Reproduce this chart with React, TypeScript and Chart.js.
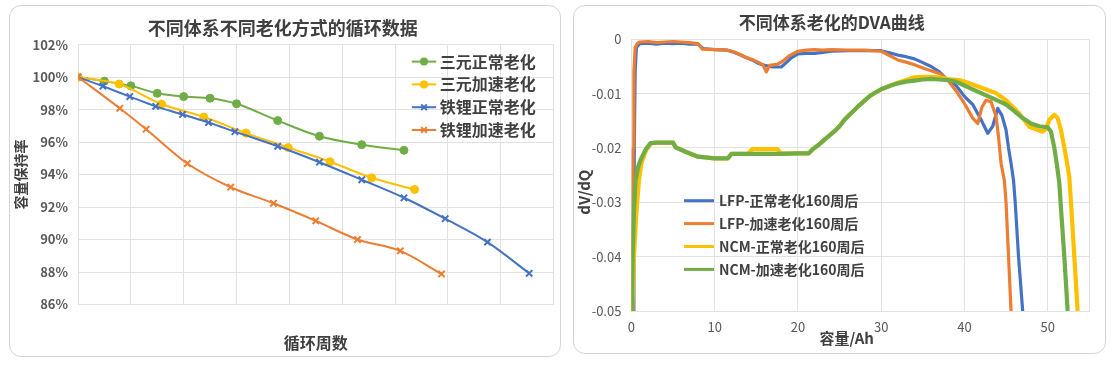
import React, { useEffect, useRef } from 'react';
import { Chart, registerables } from 'chart.js';

Chart.register(...registerables);

const FONT = '"Noto Sans CJK SC", "Noto Sans", sans-serif';

// ---------- Left chart: cycle retention ----------
const cycleSeriesNames = ['三元正常老化', '三元加速老化', '铁锂正常老化', '铁锂加速老化'];
const ncmNormalCycles = [0, 0.5, 1, 1.5, 2, 2.5, 3, 3.78, 4.57, 5.37, 6.17];
const ncmNormalRetention = [100, 99.75, 99.46, 99.0, 98.8, 98.7, 98.36, 97.32, 96.36, 95.84, 95.49];
const ncmFastCycles = [0, 0.78, 1.58, 2.38, 3.18, 3.98, 4.77, 5.56, 6.37];
const ncmFastRetention = [100, 99.57, 98.34, 97.54, 96.55, 95.66, 94.79, 93.8, 93.08];
const lfpNormalCycles = [0, 0.47, 0.98, 1.47, 1.98, 2.47, 2.97, 3.78, 4.57, 5.37, 6.17, 6.95, 7.75, 8.54];
const lfpNormalRetention = [100, 99.44, 98.8, 98.2, 97.7, 97.2, 96.64, 95.74, 94.76, 93.68, 92.57, 91.28, 89.84, 87.92];
const lfpFastCycles = [0, 0.79, 1.29, 2.07, 2.89, 3.7, 4.5, 5.29, 6.1, 6.88];
const lfpFastRetention = [100, 98.08, 96.79, 94.68, 93.22, 92.23, 91.15, 90.0, 89.3, 87.88];
const retentionTicks = [86, 88, 90, 92, 94, 96, 98, 100, 102];

// ---------- Right chart: DVA ----------
const dvaSeriesNames = ['LFP-正常老化160周后', 'LFP-加速老化160周后', 'NCM-正常老化160周后', 'NCM-加速老化160周后'];
const capLfpNormal = [0.25, 0.3, 0.35, 0.45, 0.6, 1, 2, 3, 4, 5, 6, 7, 8, 8.6, 10, 11.5, 12.3, 13, 13.7, 14.5, 15.2, 16, 17, 18, 18.6, 19.2, 20, 21, 22, 23, 24, 26, 28, 30, 31, 32, 33, 34, 35, 36, 37, 38, 39, 40, 41, 42, 42.8, 43.4, 44, 44.5, 45, 45.3, 45.6, 45.9, 46.1, 46.5, 47];
const dvdqLfpNormal = [-0.05, -0.035, -0.02, -0.006, -0.0015, -0.0008, -0.0007, -0.0009, -0.0007, -0.0008, -0.0007, -0.0009, -0.0009, -0.0017, -0.0019, -0.002, -0.0024, -0.0028, -0.0033, -0.0038, -0.0044, -0.0048, -0.0051, -0.0051, -0.0043, -0.0034, -0.0027, -0.0026, -0.0026, -0.0024, -0.0022, -0.0021, -0.0021, -0.0021, -0.0025, -0.0029, -0.0032, -0.0036, -0.0043, -0.005, -0.006, -0.0075, -0.0085, -0.0105, -0.012, -0.0148, -0.0173, -0.016, -0.0127, -0.014, -0.0167, -0.02, -0.0228, -0.026, -0.03, -0.04, -0.05];
const capLfpFast = [0.12, 0.16, 0.2, 0.3, 0.45, 0.7, 1, 2, 3, 4, 5, 6, 7, 8, 8.5, 10, 11.5, 12.3, 13, 13.7, 14.5, 15.2, 15.8, 16.2, 16.6, 17.5, 18.2, 19, 20, 21, 22, 23, 24, 26, 28, 30, 31, 32, 33, 34, 35, 36, 37, 38, 39, 40, 41, 41.6, 42.1, 42.6, 43.2, 43.8, 44.1, 44.4, 44.8, 45, 45.3, 45.6];
const dvdqLfpFast = [-0.05, -0.035, -0.02, -0.006, -0.0015, -0.0008, -0.0005, -0.0004, -0.0006, -0.0005, -0.0004, -0.0005, -0.0006, -0.0008, -0.0018, -0.0019, -0.002, -0.0023, -0.0028, -0.0033, -0.0037, -0.0042, -0.0047, -0.006, -0.0048, -0.0046, -0.004, -0.003, -0.0022, -0.002, -0.0019, -0.002, -0.0019, -0.002, -0.002, -0.0022, -0.003, -0.0038, -0.0042, -0.0047, -0.0053, -0.0058, -0.0063, -0.0075, -0.0095, -0.0118, -0.0145, -0.0155, -0.0125, -0.0112, -0.0115, -0.0142, -0.018, -0.0228, -0.026, -0.03, -0.04, -0.05];
const capNcmNormal = [0.1, 0.3, 0.6, 0.9, 1.2, 1.8, 2.4, 3, 4, 5, 5.4, 6.5, 8, 10, 11.6, 12, 14, 14.5, 16, 17.5, 18, 20, 21.3, 21.8, 22.5, 23.1, 23.8, 24.4, 25, 25.6, 26.2, 26.8, 27.4, 28, 28.6, 29.2, 30, 31, 32, 33, 34, 35, 36, 37, 38, 39.4, 40.6, 42.2, 43.8, 45, 46.2, 47, 47.8, 48.5, 49.4, 49.8, 50.2, 50.8, 51.2, 51.6, 52.2, 52.6, 52.8, 53.2, 53.6];
const dvdqNcmNormal = [-0.05, -0.04, -0.032, -0.026, -0.0228, -0.0203, -0.0191, -0.019, -0.019, -0.019, -0.0199, -0.0207, -0.0216, -0.0219, -0.0219, -0.0211, -0.0211, -0.0202, -0.0202, -0.0202, -0.021, -0.021, -0.021, -0.0202, -0.0194, -0.0186, -0.0177, -0.0169, -0.016, -0.0148, -0.0139, -0.013, -0.0121, -0.0113, -0.0105, -0.0099, -0.0092, -0.0086, -0.008, -0.0075, -0.007, -0.0069, -0.0069, -0.007, -0.0073, -0.0075, -0.0081, -0.009, -0.0099, -0.0112, -0.013, -0.0145, -0.0161, -0.0165, -0.017, -0.0165, -0.0148, -0.0139, -0.0145, -0.0167, -0.0216, -0.0253, -0.03, -0.04, -0.05];
const capNcmFast = [0.05, 0.15, 0.3, 0.5, 0.8, 1.1, 1.7, 2.3, 3, 4, 5, 5.3, 6.5, 8, 10, 11.6, 12, 14, 16, 18, 20, 21.3, 21.8, 22.5, 23.1, 23.8, 24.4, 25, 25.6, 26.2, 26.8, 27.4, 28, 28.6, 29.2, 30, 31, 32, 33, 34, 35, 36, 37, 38, 39, 40, 41, 42, 43, 44, 45, 46, 47, 48, 49, 50, 50.4, 50.8, 51.1, 51.4, 51.55, 52, 52.4];
const dvdqNcmFast = [-0.05, -0.04, -0.032, -0.026, -0.0235, -0.0222, -0.0203, -0.0191, -0.019, -0.019, -0.019, -0.0199, -0.0207, -0.0216, -0.0219, -0.0219, -0.0211, -0.0211, -0.0211, -0.0211, -0.021, -0.021, -0.0202, -0.0194, -0.0186, -0.0177, -0.0169, -0.016, -0.0148, -0.0139, -0.013, -0.0121, -0.0113, -0.0105, -0.0099, -0.0092, -0.0086, -0.0081, -0.0078, -0.0076, -0.0074, -0.0073, -0.0074, -0.0075, -0.0078, -0.0085, -0.0092, -0.0099, -0.0106, -0.0113, -0.012, -0.0132, -0.0145, -0.0155, -0.016, -0.0162, -0.017, -0.02, -0.023, -0.0265, -0.03, -0.04, -0.05];
const capacityTicks = [0, 10, 20, 30, 40, 50, 55];
const dvdqTicks = [-0.05, -0.04, -0.03, -0.02, -0.01, 0];

const GREEN = '#70AD47';
const YELLOW = '#FFC000';
const BLUE = '#4472C4';
const ORANGE = '#ED7D31';
const GRID = '#e2e2e2';
const TICK = '#595959';
const TITLE = '#404040';

const zip = (xs: number[], ys: number[]) => xs.map((x, i) => ({ x, y: ys[i] }));

function drawMarker(ctx: CanvasRenderingContext2D, style: string, x: number, y: number, r: number, color: string) {
  ctx.save();
  ctx.strokeStyle = color;
  ctx.fillStyle = color;
  if (style === 'circle') {
    ctx.beginPath();
    ctx.arc(x, y, r, 0, Math.PI * 2);
    ctx.fill();
  } else {
    const d = r * Math.SQRT1_2;
    ctx.lineWidth = 2;
    ctx.beginPath();
    ctx.moveTo(x - d, y - d);
    ctx.lineTo(x + d, y + d);
    ctx.moveTo(x - d, y + d);
    ctx.lineTo(x + d, y - d);
    ctx.stroke();
  }
  ctx.restore();
}

const cycleLegend = {
  id: 'cycleLegend',
  afterDraw(chart: any) {
    const { ctx, chartArea } = chart;
    ctx.save();
    chart.data.datasets.forEach((ds: any, i: number) => {
      const y = chartArea.top + 17 + i * 22.8;
      const x0 = chartArea.right - 141.7;
      const x1 = chartArea.right - 117.3;
      ctx.strokeStyle = ds.borderColor;
      ctx.lineWidth = 2;
      ctx.beginPath();
      ctx.moveTo(x0, y);
      ctx.lineTo(x1, y);
      ctx.stroke();
      drawMarker(ctx, ds.pointStyle, (x0 + x1) / 2, y, 4, ds.borderColor);
      ctx.fillStyle = TITLE;
      ctx.font = `bold 16px ${FONT}`;
      ctx.textAlign = 'left';
      ctx.textBaseline = 'middle';
      ctx.fillText(ds.label, chartArea.right - 113.7, y);
    });
    ctx.restore();
  },
};

const dvaLegend = {
  id: 'dvaLegend',
  afterDraw(chart: any) {
    const { ctx, chartArea } = chart;
    ctx.save();
    chart.data.datasets.forEach((ds: any, i: number) => {
      const y = chartArea.top + 161.4 + i * 22.9;
      ctx.strokeStyle = ds.borderColor;
      ctx.lineWidth = 3;
      ctx.beginPath();
      ctx.moveTo(chartArea.left + 52.6, y);
      ctx.lineTo(chartArea.left + 82.6, y);
      ctx.stroke();
      ctx.fillStyle = TITLE;
      ctx.font = `bold 14px ${FONT}`;
      ctx.textAlign = 'left';
      ctx.textBaseline = 'middle';
      ctx.fillText(ds.label, chartArea.left + 87.6, y);
    });
    ctx.restore();
  },
};

function cycleDataset(label: string, xs: number[], ys: number[], color: string, pointStyle: string, order: number) {
  return {
    label,
    data: zip(xs, ys),
    borderColor: color,
    backgroundColor: color,
    pointBackgroundColor: color,
    pointBorderColor: color,
    pointStyle,
    pointRadius: pointStyle === 'circle' ? 4 : 4.5,
    pointBorderWidth: pointStyle === 'circle' ? 1 : 2,
    borderWidth: 2,
    cubicInterpolationMode: 'monotone',
    order,
  };
}

function dvaDataset(label: string, xs: number[], ys: number[], color: string, width: number, order: number) {
  return {
    label,
    data: zip(xs, ys),
    borderColor: color,
    backgroundColor: color,
    borderWidth: width,
    pointRadius: 0,
    borderJoinStyle: 'round',
    order,
  };
}

export default function App() {
  const leftRef = useRef<HTMLCanvasElement>(null);
  const rightRef = useRef<HTMLCanvasElement>(null);

  useEffect(() => {
    const left = new Chart(leftRef.current as HTMLCanvasElement, {
      type: 'line',
      data: {
        datasets: [
          cycleDataset(cycleSeriesNames[0], ncmNormalCycles, ncmNormalRetention, GREEN, 'circle', 4),
          cycleDataset(cycleSeriesNames[1], ncmFastCycles, ncmFastRetention, YELLOW, 'circle', 3),
          cycleDataset(cycleSeriesNames[2], lfpNormalCycles, lfpNormalRetention, BLUE, 'crossRot', 2),
          cycleDataset(cycleSeriesNames[3], lfpFastCycles, lfpFastRetention, ORANGE, 'crossRot', 1),
        ] as any,
      },
      options: {
        responsive: false,
        animation: false,
        layout: { padding: { left: 0, right: 4.5, top: 0, bottom: 3.4 } },
        plugins: {
          legend: { display: false },
          tooltip: { enabled: false },
          title: {
            display: true,
            text: '不同体系不同老化方式的循环数据',
            color: TITLE,
            font: { family: FONT, size: 18, weight: 'bold' },
            padding: { top: 11.5, bottom: 5.5 },
          },
        },
        scales: {
          x: {
            type: 'linear',
            min: 0,
            max: 9,
            ticks: { display: false, stepSize: 1 },
            grid: { color: GRID, drawTicks: false },
            border: { color: GRID },
            title: {
              display: true,
              text: '循环周数',
              color: TITLE,
              font: { family: FONT, size: 16, weight: 'bold' },
              padding: 0,
            },
            afterFit: (s: any) => { s.height = 48.1; },
          },
          y: {
            type: 'linear',
            min: 86,
            max: 102,
            afterBuildTicks: (s: any) => { s.ticks = retentionTicks.map((v) => ({ value: v })); },
            ticks: {
              callback: (v: any) => `${v}%`,
              color: TICK,
              font: { family: FONT, size: 13, weight: 'bold' },
              padding: 10,
            },
            grid: { color: GRID, drawTicks: false },
            border: { color: GRID },
            title: {
              display: true,
              text: '容量保持率',
              color: TITLE,
              font: { family: FONT, size: 14, weight: 'bold' },
              padding: { top: 2.6, bottom: 0 },
            },
            afterFit: (s: any) => { s.width = 68; },
          },
        },
      } as any,
      plugins: [cycleLegend],
    });

    const right = new Chart(rightRef.current as HTMLCanvasElement, {
      type: 'line',
      data: {
        datasets: [
          dvaDataset(dvaSeriesNames[0], capLfpNormal, dvdqLfpNormal, BLUE, 3.2, 4),
          dvaDataset(dvaSeriesNames[1], capLfpFast, dvdqLfpFast, ORANGE, 3.2, 3),
          dvaDataset(dvaSeriesNames[2], capNcmNormal, dvdqNcmNormal, YELLOW, 4.2, 2),
          dvaDataset(dvaSeriesNames[3], capNcmFast, dvdqNcmFast, GREEN, 4.2, 1),
        ] as any,
      },
      options: {
        responsive: false,
        animation: false,
        layout: { padding: { left: 0, right: 15.7, top: 0, bottom: 6 } },
        plugins: {
          legend: { display: false },
          tooltip: { enabled: false },
          title: {
            display: true,
            text: '不同体系老化的DVA曲线',
            color: TITLE,
            font: { family: FONT, size: 17, weight: 'bold' },
            padding: { top: 6.8, bottom: 6.1 },
          },
        },
        scales: {
          x: {
            type: 'linear',
            min: 0,
            max: 55,
            afterBuildTicks: (s: any) => { s.ticks = capacityTicks.map((v) => ({ value: v })); },
            ticks: {
              callback: (v: any) => (v === 55 ? '' : String(v)),
              color: TICK,
              font: { family: FONT, size: 13 },
              padding: 8,
              autoSkip: false,
              maxRotation: 0,
            },
            grid: { color: GRID, drawTicks: false },
            border: { color: GRID },
            title: {
              display: true,
              text: '容量/Ah        ',
              color: TITLE,
              font: { family: FONT, size: 15, weight: 'bold' },
              padding: 0,
            },
            afterFit: (s: any) => { s.height = 36; },
          },
          y: {
            type: 'linear',
            min: -0.05,
            max: 0,
            afterBuildTicks: (s: any) => { s.ticks = dvdqTicks.map((v) => ({ value: v })); },
            ticks: {
              callback: (v: any) => (v === 0 ? '0' : Number(v).toFixed(2)),
              color: TICK,
              font: { family: FONT, size: 13 },
              padding: 10,
            },
            grid: { color: GRID, drawTicks: false },
            border: { color: GRID },
            title: {
              display: true,
              text: 'dV/dQ          ',
              color: TITLE,
              font: { family: FONT, size: 15, weight: 'bold' },
              padding: { top: 1, bottom: 0 },
            },
            afterFit: (s: any) => { s.width = 57.4; },
          },
        },
      } as any,
      plugins: [dvaLegend],
    });

    return () => {
      left.destroy();
      right.destroy();
    };
  }, []);

  const card: React.CSSProperties = {
    position: 'absolute',
    border: '1px solid #d4d4d4',
    borderRadius: 12,
    boxSizing: 'border-box',
    overflow: 'hidden',
    background: '#fff',
  };

  return (
    <div style={{ position: 'absolute', left: 0, top: 0, width: 1120, height: 370, background: '#fff' }}>
      <div style={{ ...card, left: 9, top: 5, width: 552, height: 352 }}>
        <canvas ref={leftRef} width={550} height={350} style={{ position: 'absolute', left: 0, top: 0 }} />
      </div>
      <div style={{ ...card, left: 573, top: 5, width: 533, height: 349 }}>
        <canvas ref={rightRef} width={531} height={347} style={{ position: 'absolute', left: 0, top: 0 }} />
      </div>
    </div>
  );
}
